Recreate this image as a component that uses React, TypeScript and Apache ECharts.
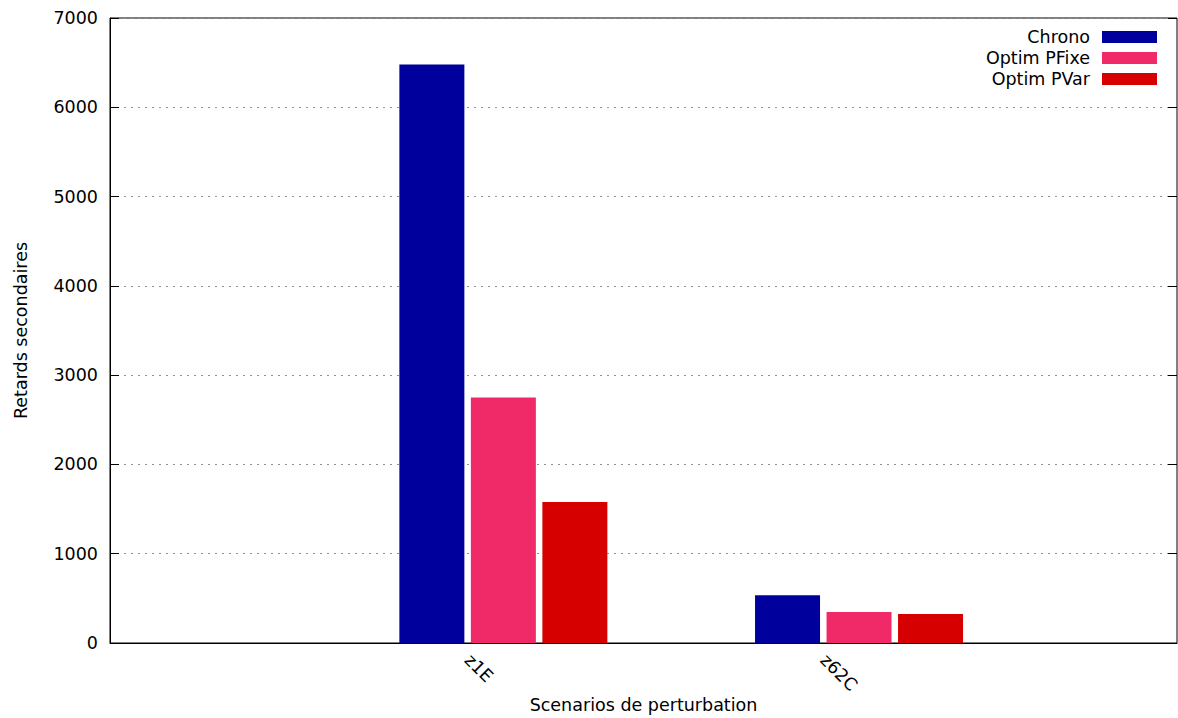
import React, { useEffect, useRef } from "react";
import * as echarts from "echarts";

const categories = ["z1E", "z62C"];
const seriesNames = ["Chrono", "Optim PFixe", "Optim PVar"];
const chronoValues = [6480, 535];
const pfixeValues = [2750, 348];
const pvarValues = [1578, 325];
const colors = ["#00009c", "#f02a68", "#d60000"];
const yTicks = [0, 1000, 2000, 3000, 4000, 5000, 6000, 7000];

const FONT = "DejaVu Sans";
const FS = 17.5;

export default function App() {
  const ref = useRef<HTMLDivElement>(null);
  useEffect(() => {
    if (!ref.current) return;
    const chart = echarts.init(ref.current, null, { renderer: "svg" });
    const values = [chronoValues, pfixeValues, pvarValues];
    const labelShift = 0.1;
    const legendTops = [28, 49, 70];
    chart.setOption({
      animation: false,
      textStyle: { fontFamily: FONT, color: "#000" },
      grid: {
        left: 110,
        right: 1,
        top: 18,
        bottom: 75,
        show: true,
        borderColor: "#000",
        borderWidth: 1,
        backgroundColor: "transparent",
        containLabel: false,
        outerBoundsMode: "none",
      },
      legend: seriesNames.map((n, i) => ({
        data: [n],
        right: 21,
        top: legendTops[i],
        align: "right",
        orient: "vertical",
        padding: 0,
        itemWidth: 55,
        itemHeight: 12,
        icon: "rect",
        selectedMode: false,
        textStyle: { fontFamily: FONT, fontSize: FS, color: "#000", padding: [0, 7, 0, 0] },
      })),
      xAxis: {
        type: "value",
        min: -1.106,
        max: 1.894,
        name: "Scenarios de perturbation",
        nameLocation: "middle",
        nameGap: 53,
        nameMoveOverlap: false,
        nameTextStyle: { fontFamily: FONT, fontSize: FS, color: "#000" },
        axisLine: { show: true, onZero: false, lineStyle: { color: "#000" } },
        axisTick: { show: false },
        splitLine: { show: false },
        axisLabel: {
          customValues: categories.map((_, i) => i - labelShift),
          formatter: (v: number) => categories[Math.round(v)] ?? "",
          rotate: -45,
          margin: 14,
          fontFamily: FONT,
          fontSize: FS,
          color: "#000",
        },
      },
      yAxis: [
        {
          type: "value",
          min: 0,
          max: 7000,
          interval: 1000,
          name: "Retards secondaires",
          nameLocation: "middle",
          nameGap: 80,
          nameMoveOverlap: false,
          nameTextStyle: { fontFamily: FONT, fontSize: FS, color: "#000" },
          axisLine: { show: true, onZero: false, lineStyle: { color: "#000" } },
          axisTick: { show: true, inside: true, length: 9, lineStyle: { color: "#000" } },
          axisLabel: {
            formatter: (v: number) => (yTicks.includes(v) ? String(v) : ""),
            margin: 12,
            fontFamily: FONT,
            fontSize: FS,
            color: "#000",
          },
          splitLine: {
            show: true,
            lineStyle: { color: "#909090", width: 1, type: [2, 5] },
          },
        },
        {
          type: "value",
          position: "right",
          min: 0,
          max: 7000,
          interval: 1000,
          axisLine: { show: false, onZero: false },
          axisTick: { show: true, inside: true, length: 9, lineStyle: { color: "#000" } },
          axisLabel: { show: false },
          splitLine: { show: false },
        },
      ],
      series: seriesNames.map((name, si) => ({
        name,
        type: "bar",
        yAxisIndex: 0,
        barWidth: 65,
        barGap: "10%",
        itemStyle: { color: colors[si] },
        data: categories.map((_, ci) => [ci, values[si][ci]]),
      })),
    });
    return () => chart.dispose();
  }, []);
  return <div ref={ref} style={{ width: 1178, height: 718, position: "absolute", left: 0, top: 0 }} />;
}
